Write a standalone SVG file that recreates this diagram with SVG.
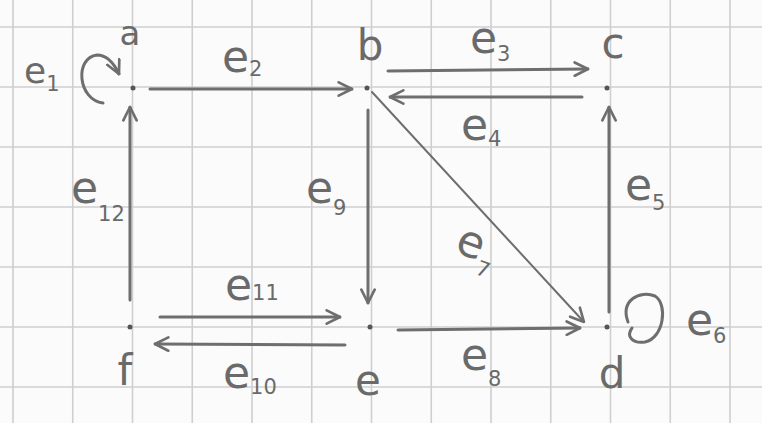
<svg xmlns="http://www.w3.org/2000/svg" width="762" height="423" viewBox="0 0 762 423">
<style>
.grid line{stroke:#cfcfcf;stroke-width:1.6}
.edge{fill:none;stroke:#6e6e6e;stroke-width:3;stroke-linecap:round}
.thin{stroke-width:2}
.lbl{font-family:"DejaVu Sans",sans-serif;font-size:44px;fill:#6a6a6a}
.sub{font-size:21px}
.node{fill:#555}
.nl{font-family:"DejaVu Sans",sans-serif;font-size:42px;fill:#6a6a6a;text-anchor:middle}
</style>
<defs>
<marker id="arr" viewBox="0 0 12 12" refX="11" refY="6" markerWidth="16" markerHeight="16" markerUnits="userSpaceOnUse" orient="auto">
<path d="M1,1 L11,6 L1,11" fill="none" stroke="#6e6e6e" stroke-width="2" stroke-linecap="round" stroke-linejoin="round"/>
</marker>
</defs>
<rect width="762" height="423" fill="#fbfbfb"/>
<g class="grid">
<line x1="13" y1="0" x2="13" y2="423"/>
<line x1="72.75" y1="0" x2="72.75" y2="423"/>
<line x1="132.5" y1="0" x2="132.5" y2="423"/>
<line x1="192.25" y1="0" x2="192.25" y2="423"/>
<line x1="252" y1="0" x2="252" y2="423"/>
<line x1="311.75" y1="0" x2="311.75" y2="423"/>
<line x1="371.5" y1="0" x2="371.5" y2="423"/>
<line x1="431.25" y1="0" x2="431.25" y2="423"/>
<line x1="491" y1="0" x2="491" y2="423"/>
<line x1="550.75" y1="0" x2="550.75" y2="423"/>
<line x1="610.5" y1="0" x2="610.5" y2="423"/>
<line x1="670.25" y1="0" x2="670.25" y2="423"/>
<line x1="730" y1="0" x2="730" y2="423"/>
<line x1="0" y1="27" x2="762" y2="27"/>
<line x1="0" y1="87" x2="762" y2="87"/>
<line x1="0" y1="147" x2="762" y2="147"/>
<line x1="0" y1="207" x2="762" y2="207"/>
<line x1="0" y1="267" x2="762" y2="267"/>
<line x1="0" y1="327" x2="762" y2="327"/>
<line x1="0" y1="387" x2="762" y2="387"/>
</g>
<g id="edges">
<path class="edge" d="M103,103 C78,100 74,58 97,55 Q110,55 119,74" marker-end="url(#arr)"/>
<path class="edge" d="M150,89 L352,89" marker-end="url(#arr)"/>
<path class="edge" d="M388,71 L588,69" marker-end="url(#arr)"/>
<path class="edge" d="M582,97 L390,97" marker-end="url(#arr)"/>
<path class="edge" d="M609,312 L609,107" marker-end="url(#arr)"/>
<path class="edge" d="M628,322 C620,300 640,290 655,296 C668,304 664,338 645,342 C632,344 626,336 632,328" />
<path class="edge thin" d="M372,92 L584,322" marker-end="url(#arr)"/>
<path class="edge" d="M398,330 L580,328" marker-end="url(#arr)"/>
<path class="edge" d="M368,110 L368,303" marker-end="url(#arr)"/>
<path class="edge" d="M345,345 L155,344" marker-end="url(#arr)"/>
<path class="edge" d="M160,317 L340,317" marker-end="url(#arr)"/>
<path class="edge" d="M130,300 L130,107" marker-end="url(#arr)"/>
<text class="lbl" x="24" y="83" style="font-size:36px">e<tspan class="sub" dy="8">1</tspan></text>
<text class="lbl" x="222" y="72">e<tspan class="sub" dy="4">2</tspan></text>
<text class="lbl" x="470" y="53">e<tspan class="sub" dy="8">3</tspan></text>
<text class="lbl" x="461" y="140">e<tspan class="sub" dy="6">4</tspan></text>
<text class="lbl" x="625" y="200">e<tspan class="sub" dy="10">5</tspan></text>
<text class="lbl" x="686" y="335">e<tspan class="sub" dy="8">6</tspan></text>
<text class="lbl" x="455" y="257" transform="rotate(20 470 250)">e<tspan class="sub" dy="14">7</tspan></text>
<text class="lbl" x="461" y="370">e<tspan class="sub" dy="16">8</tspan></text>
<text class="lbl" x="306" y="203">e<tspan class="sub" dy="12">9</tspan></text>
<text class="lbl" x="223" y="388">e<tspan class="sub" dy="6">10</tspan></text>
<text class="lbl" x="225" y="300">e<tspan class="sub" dy="0">11</tspan></text>
<text class="lbl" x="71" y="203">e<tspan class="sub" dy="18">12</tspan></text>
</g>
<g id="node-a"><circle class="node" cx="133" cy="88" r="2.5"/><text class="nl" x="130" y="45" style="font-size:34px">a</text></g>
<g id="node-b"><circle class="node" cx="367" cy="88" r="2.5"/><text class="nl" x="370" y="60">b</text></g>
<g id="node-c"><circle class="node" cx="607" cy="88" r="2.5"/><text class="nl" x="613" y="58">c</text></g>
<g id="node-d"><circle class="node" cx="607" cy="327" r="2.5"/><text class="nl" x="612" y="388">d</text></g>
<g id="node-e"><circle class="node" cx="370" cy="327" r="2.5"/><text class="nl" x="368" y="395">e</text></g>
<g id="node-f"><circle class="node" cx="130" cy="327" r="2.5"/><text class="nl" x="125" y="385">f</text></g>
</svg>
